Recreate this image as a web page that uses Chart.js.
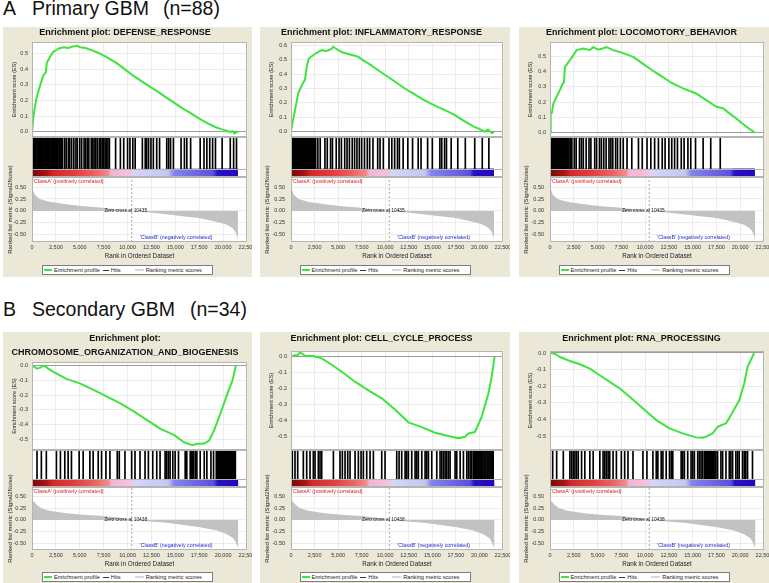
<!DOCTYPE html>
<html>
<head>
<meta charset="utf-8">
<title>GSEA enrichment plots</title>
<script src="https://cdn.jsdelivr.net/npm/chart.js@4.4.1/dist/chart.umd.min.js"></script>
<style>
  html, body { margin:0; padding:0; background:#fff; }
  body { position:relative; width:769px; height:583px; overflow:hidden; font-family:"Liberation Sans", Arial, sans-serif; }
  .big { position:absolute; font-size:19.5px; line-height:1; color:#111; white-space:pre; }
  .panel { position:absolute; background:#ebe8d8; }
  canvas { position:absolute; }
  .lg { position:absolute; height:10px; box-sizing:border-box; border:1px solid #7d7d7d; background:#fff;
        display:flex; align-items:center; font-size:5.7px; color:#222; white-space:nowrap; }
  .lg i { display:inline-block; }
</style>
</head>
<body>
<div class="big" style="left:3px;top:-1px">A</div>
<div class="big" style="left:32px;top:-1px">Primary GBM</div>
<div class="big" style="left:163px;top:-1px">(n=88)</div>
<div class="big" style="left:3px;top:300px">B</div>
<div class="big" style="left:32px;top:300px">Secondary GBM</div>
<div class="big" style="left:190px;top:300px">(n=34)</div>
<script>
const FONT = '"Liberation Sans", Arial, sans-serif';

// ---- axis ticks ----
const rankTicks = [0, 2500, 5000, 7500, 10000, 12500, 15000, 17500, 20000, 22500];
const rankTickLabels = ['0', '2,500', '5,000', '7,500', '10,000', '12,500', '15,000', '17,500', '20,000', '22,500'];

// ---- ranked list (gray area), [rank, signal2noise] ----
const primaryTotal = 21550;
const primaryZeroCross = 10435;
const primaryMetric = [[0,0.6],[100,0.45],[300,0.34],[800,0.25],[1800,0.19],[3600,0.14],[5400,0.10],[7100,0.07],
  [8800,0.035],[10435,0],[12300,-0.035],[14000,-0.07],[15800,-0.11],[17500,-0.15],[19400,-0.23],[20400,-0.29],
  [21000,-0.36],[21300,-0.44],[21500,-0.55],[21550,-0.62]];

const secondaryTotal = 21600;
const secondaryZeroCross = 10438;
const secondaryMetric = [[0,0.55],[100,0.42],[460,0.33],[970,0.25],[1840,0.2],[3600,0.145],[5350,0.11],[7100,0.087],
  [8800,0.058],[10438,0],[12350,-0.036],[14100,-0.06],[15860,-0.11],[17600,-0.16],[19350,-0.23],[20400,-0.31],
  [21100,-0.40],[21400,-0.52],[21600,-0.62]];

// ---- enrichment score curves, [rank, ES] ----
const defenseES = [[0,0],[120,0.08],[240,0.14],[490,0.22],[865,0.30],[1180,0.36],[1450,0.38],[1550,0.44],[1800,0.47],
  [2220,0.51],[2740,0.53],[3300,0.54],[3800,0.535],[4300,0.545],[4700,0.55],[5000,0.54],[5600,0.535],[6300,0.52],
  [7080,0.50],[8000,0.47],[8820,0.44],[9700,0.40],[10550,0.36],[11400,0.325],[12290,0.29],[13200,0.255],[14030,0.22],
  [14900,0.185],[15760,0.15],[16600,0.12],[17500,0.085],[18400,0.055],[19240,0.03],[19800,0.018],[20280,0.01],
  [20700,0.0],[21000,0.005],[21200,-0.01],[21400,0.003],[21550,-0.005]];
const inflammatoryES = [[0,0],[140,0.058],[424,0.15],[777,0.27],[1130,0.32],[1484,0.36],[1600,0.42],[1700,0.46],
  [1908,0.51],[2544,0.54],[3250,0.566],[3700,0.56],[3957,0.566],[4300,0.575],[4487,0.59],[5017,0.566],[5500,0.55],
  [6078,0.54],[7137,0.52],[7800,0.49],[8551,0.46],[9400,0.42],[10318,0.38],[11200,0.34],[12085,0.30],[13000,0.265],
  [13852,0.23],[14700,0.20],[15618,0.17],[16678,0.139],[17385,0.115],[18100,0.085],[18800,0.058],[19400,0.035],
  [19860,0.023],[20565,0.0],[20900,0.015],[21150,0.0],[21343,-0.01],[21550,0.0]];
const locomotoryES = [[0,0],[70,0.126],[200,0.13],[350,0.19],[700,0.235],[1050,0.28],[1330,0.32],[1470,0.33],
  [1573,0.43],[1923,0.46],[2448,0.506],[2797,0.54],[3497,0.55],[4196,0.54],[4545,0.56],[5070,0.543],[5500,0.55],
  [5944,0.56],[6643,0.54],[7692,0.52],[8741,0.496],[9790,0.45],[10700,0.41],[11538,0.376],[12587,0.333],
  [13986,0.29],[15384,0.256],[16434,0.213],[17483,0.17],[18182,0.16],[18900,0.125],[19580,0.093],[20629,0.04],
  [21550,0.0]];
const chromosomeES = [[0,0],[300,-0.01],[525,-0.02],[800,-0.015],[980,-0.01],[1100,0.0],[1400,-0.005],[1700,-0.02],
  [2200,-0.04],[3600,-0.09],[5000,-0.12],[6450,-0.165],[7850,-0.21],[9250,-0.256],[10650,-0.31],[12050,-0.37],
  [13450,-0.43],[14850,-0.47],[15900,-0.52],[16780,-0.54],[17300,-0.53],[18000,-0.53],[18530,-0.51],[19050,-0.44],
  [19750,-0.32],[20450,-0.19],[20980,-0.10],[21330,0.0]];
const cellCycleES = [[0,0],[425,0.01],[710,0.01],[955,0.027],[1310,0.015],[1490,0.005],[2370,0.005],[3260,-0.01],
  [4320,-0.05],[5380,-0.094],[6800,-0.156],[8210,-0.21],[9630,-0.26],[11040,-0.33],[12460,-0.41],[13870,-0.44],
  [15290,-0.475],[16700,-0.495],[17760,-0.51],[18470,-0.50],[18830,-0.48],[19530,-0.47],[20240,-0.375],
  [20950,-0.23],[21300,-0.125],[21600,0.0]];
const rnaES = [[0,0],[520,-0.005],[1047,-0.024],[2094,-0.048],[3141,-0.068],[4190,-0.094],[5236,-0.134],
  [6283,-0.174],[7330,-0.214],[8377,-0.264],[9773,-0.334],[11170,-0.404],[12565,-0.454],[13960,-0.484],
  [15357,-0.508],[16000,-0.51],[16400,-0.504],[17100,-0.484],[17627,-0.444],[18500,-0.424],[19020,-0.374],
  [19900,-0.284],[20420,-0.184],[20770,-0.084],[21460,0.0]];

// ---- hit positions (ranks) ----
const defenseHits = [0,70,150,260,330,410,520,600,690,760,880,950,1040,1130,1250,1320,1410,1500,1620,1700,1790,1880,
  1990,2070,2160,2280,2350,2440,2560,2640,2730,2850,2960,3080,3200,3420,3580,3800,3950,4150,4380,4600,4750,5000,
  5200,5450,5600,5780,5950,6200,6350,6500,6680,6850,7050,7200,7350,7500,7650,7800,7950,8100,8750,9250,9600,10000,
  10250,10550,10800,11550,11850,12000,12200,12450,12700,13050,13350,14100,14300,14500,14800,15600,15950,16200,
  16600,17600,18000,18300,18600,18900,19200,19900,20750,21100,21400];
const inflammatoryHits = [0,90,160,240,330,400,480,560,650,720,810,880,970,1050,1140,1210,1300,1380,1460,1550,1630,
  1720,1800,1890,1970,2060,2150,2230,2320,2410,2500,2620,2850,3100,3600,3850,4200,4400,4800,5100,5350,5700,5950,
  6200,6500,6750,7000,7250,7500,7800,8100,8350,8700,9200,9450,9800,10400,10700,11000,11300,11500,11900,12400,
  12900,13500,13800,14500,15000,15800,16000,16300,16500,17000,17700,18500,19500,20300,21000];
const locomotoryHits = [0,70,130,210,280,350,430,500,580,650,720,800,870,950,1020,1100,1170,1250,1320,1400,1480,1550,
  1630,1700,1800,1900,2000,2150,2300,2550,2750,3100,3300,3500,3800,4100,4300,4700,4900,5200,5400,5650,5900,6200,
  6400,6600,6900,7100,7400,7700,8100,8600,9300,9700,10200,10600,11000,11400,11800,12100,12500,12800,13100,13400,
  13800,14100,14500,14800,15300,16100,16900,17900];
const chromosomeHits = [525,980,1500,2555,2975,3430,3780,4130,4935,5355,6055,6400,6930,7280,7735,8155,8925,9135,
  9730,10430,10780,11300,11830,12180,12635,13055,13400,13930,14100,14280,14455,14735,14980,15330,16030,16200,
  16555,16650,16730,16820,16900,17080,17255,17600,18025,18300,18725,19000,19285,19400,19530,19620,19700,19800,
  19880,19970,20055,20150,20230,20320,20400,20490,20580,20670,20755,20850,20930,21020,21100,21190,21280];
const cellCycleHits = [140,425,710,1310,1665,2020,2370,2550,2900,3080,3260,4500,5200,5450,5735,6020,6265,6800,7150,
  7435,7680,8035,8390,8745,9630,9980,11220,11470,11750,12110,12280,12460,12815,13170,13350,13520,13880,14230,
  14410,14585,14940,15470,15820,16000,16180,16355,16530,16710,16885,17415,17590,17950,18300,18655,18830,19010,
  19190,19365,19480,19590,19710,19800,19920,20030,20150,20250,20360,20480,20580,20690,20810,20910,21020,21130,
  21250,21350,21460];
const rnaHits = [280,700,1400,2090,2270,2440,2620,2790,2970,3320,3660,4190,4540,5240,5580,5760,5930,6110,6280,6630,
  6980,7500,7850,8200,8725,9770,10190,10820,11170,11340,11690,11870,12215,12560,12740,12910,13790,13960,14130,
  14480,14830,15010,15180,15530,15700,15880,16050,16230,16340,16450,16560,16670,16780,16890,17000,17110,17220,
  17340,17450,17620,17970,18150,18500,18850,19020,19200,19540,19720,19890,20240,20420,20590,20770,21290];

// ---- layout / style ----
const gradientStops = [[0,'#7a0808'],[0.07,'#a81414'],[0.1,'#d42828'],[0.2,'#e23c3c'],[0.3,'#ec6060'],
  [0.37,'#f28a8a'],[0.385,'#f5b4d4'],[0.48,'#f2c4e0'],[0.495,'#d6d6f6'],[0.66,'#c6c6f2'],[0.69,'#8484ea'],
  [0.88,'#5a50dc'],[0.9,'#2a10c4'],[1,'#2008b8']];

const columns = [
  {left:3, width:249, plotLeft:32, plotRight:247},
  {left:260, width:250, plotLeft:291, plotRight:503},
  {left:519, width:250, plotLeft:550, plotRight:764}
];
const rows = {
  A: {top:27, bottom:277, esBottom:137, hitsBottom:177, metricBottom:242, legendTop:265,
      total:primaryTotal, zero:primaryZeroCross, metric:primaryMetric},
  B: {top:332, bottom:583, esBottom:450, hitsBottom:487, metricBottom:550, legendTop:572,
      total:secondaryTotal, zero:secondaryZeroCross, metric:secondaryMetric}
};

const panels = [
  {row:'A', col:0, title:['Enrichment plot: DEFENSE_RESPONSE'], es:defenseES, hits:defenseHits,
   yMin:-0.032, yMax:0.573, lh:12, pad:{top:0, bottom:3}},
  {row:'A', col:1, title:['Enrichment plot: INFLAMMATORY_RESPONSE'], es:inflammatoryES, hits:inflammatoryHits,
   yMin:-0.037, yMax:0.623, lh:12, pad:{top:0, bottom:3}},
  {row:'A', col:2, title:['Enrichment plot: LOCOMOTORY_BEHAVIOR'], es:locomotoryES, hits:locomotoryHits,
   yMin:-0.028, yMax:0.593, lh:12, pad:{top:0, bottom:3}},
  {row:'B', col:0, title:['Enrichment plot:', 'CHROMOSOME_ORGANIZATION_AND_BIOGENESIS'], es:chromosomeES,
   hits:chromosomeHits, yMin:-0.573, yMax:0.025, lh:14, pad:{top:0, bottom:2}},
  {row:'B', col:1, title:['Enrichment plot: CELL_CYCLE_PROCESS'], es:cellCycleES, hits:cellCycleHits,
   yMin:-0.583, yMax:0.036, lh:12, pad:{top:1, bottom:6}},
  {row:'B', col:2, title:['Enrichment plot: RNA_PROCESSING'], es:rnaES, hits:rnaHits,
   yMin:-0.584, yMax:0.012, lh:12, pad:{top:1, bottom:6}}
];

// white plot background + thin frame round every plot area
const framePlugin = {
  id: 'frame',
  beforeDraw(chart) {
    const {ctx, chartArea: a} = chart;
    ctx.save();
    ctx.fillStyle = '#fff';
    ctx.fillRect(a.left, a.top, a.right - a.left, a.bottom - a.top);
    ctx.restore();
  },
  afterDraw(chart, args, opts) {
    const {ctx, chartArea: a} = chart;
    ctx.save();
    ctx.strokeStyle = opts.color || '#b0b0b0';
    ctx.lineWidth = 1;
    const l = Math.round(a.left) + 0.5, t = Math.round(a.top) + 0.5;
    const r = Math.round(a.right) - 0.5, b = Math.round(a.bottom) - 0.5;
    ctx.strokeRect(l, t, r - l, b - t);
    if (opts.splitAt !== undefined) {
      const y = Math.round(chart.scales.y.getPixelForValue(opts.splitAt)) + 0.5;
      ctx.beginPath(); ctx.moveTo(l, y); ctx.lineTo(r, y); ctx.stroke();
    }
    ctx.restore();
  }
};

const notesPlugin = {
  id: 'notes',
  afterDatasetsDraw(chart, args, o) {
    const {ctx, chartArea: a, scales: {x, y}} = chart;
    const zx = x.getPixelForValue(o.zero);
    ctx.save();
    ctx.font = '5.3px ' + FONT;
    ctx.textAlign = 'left';
    ctx.textBaseline = 'top';
    ctx.fillStyle = '#e01818';
    ctx.fillText("'ClassA' (positively correlated)", a.left + 1, a.top + 1.5);
    ctx.textBaseline = 'bottom';
    ctx.fillStyle = '#2626d0';
    ctx.fillText("'ClassB' (negatively correlated)", zx + 8, a.bottom - 2);
    ctx.font = '4.8px ' + FONT;
    ctx.fillStyle = '#111';
    ctx.textAlign = 'center';
    ctx.textBaseline = 'middle';
    ctx.fillText('Zero cross at ' + o.zero, zx - 6, y.getPixelForValue(0) - 0.5);
    ctx.restore();
  }
};

function makeCanvas(left, top, w, h) {
  const c = document.createElement('canvas');
  c.width = w; c.height = h;
  c.style.left = left + 'px'; c.style.top = top + 'px';
  c.style.width = w + 'px'; c.style.height = h + 'px';
  document.body.appendChild(c);
  return c;
}

function rankAxis(showLabels) {
  return {
    type: 'linear', min: 0, max: 22500, offset: false,
    afterBuildTicks: s => { s.ticks = rankTicks.map(v => ({value: v})); },
    afterFit: s => { s.paddingLeft = 0; s.paddingRight = 0; s.height = showLabels ? 19 : 0; },
    grid: {color: '#ececec', drawTicks: false},
    border: {display: false},
    ticks: {
      display: showLabels, autoSkip: false, maxRotation: 0, minRotation: 0, padding: 2,
      font: {family: FONT, size: 5.5}, color: '#333',
      callback: (v, i) => rankTickLabels[i]
    },
    title: {display: showLabels, text: 'Rank in Ordered Dataset', color: '#222',
            font: {family: FONT, size: 6.3}, padding: {top: 1, bottom: 1}}
  };
}

const common = {responsive: false, animation: false, events: []};

panels.forEach(p => {
  const row = rows[p.row], col = columns[p.col];
  const yWidth = col.plotLeft - col.left;
  const padRight = col.left + col.width - col.plotRight;

  // beige panel
  const bg = document.createElement('div');
  bg.className = 'panel';
  bg.style.cssText = `left:${col.left}px;top:${row.top}px;width:${col.width}px;height:${row.bottom - row.top}px`;
  document.body.appendChild(bg);

  // enrichment score
  new Chart(makeCanvas(col.left, row.top, col.width, row.esBottom - row.top), {
    type: 'line',
    data: {datasets: [{
      data: p.es.map(([x, y]) => ({x, y})),
      borderColor: '#3de43d', borderWidth: 2, pointRadius: 0, tension: 0, borderJoinStyle: 'round'
    }]},
    options: {
      ...common,
      layout: {padding: {left: 0, right: padRight, top: 0, bottom: 0}},
      plugins: {
        legend: {display: false}, tooltip: {enabled: false},
        title: {display: true, text: p.title, color: '#111',
                font: {family: FONT, size: 9, weight: 'bold', lineHeight: p.lh + 'px'}, padding: p.pad},
        frame: {color: '#b4b4b4'}
      },
      scales: {
        x: rankAxis(false),
        y: {
          min: p.yMin, max: p.yMax,
          afterFit: s => { s.width = yWidth; s.paddingTop = 0; s.paddingBottom = 0; },
          grid: {drawTicks: false, color: c => Math.abs(c.tick.value) < 1e-9 ? '#9c9c9c' : '#ececec'},
          border: {display: false},
          ticks: {stepSize: 0.1, includeBounds: false, padding: 4, color: '#333',
                  font: {family: FONT, size: 5.5}, callback: v => v.toFixed(1)},
          title: {display: true, text: 'Enrichment score (ES)', color: '#222',
                  font: {family: FONT, size: 5.5}, padding: {top: 8.5, bottom: 0}}
        }
      }
    },
    plugins: [framePlugin]
  });

  // hits + ranked list colour bar
  new Chart(makeCanvas(col.left, row.esBottom, col.width, row.hitsBottom - row.esBottom), {
    type: 'bar',
    data: {datasets: [
      {type: 'bar', data: p.hits.map(r => ({x: r, y: [0.21, 1]})), backgroundColor: '#000',
       barThickness: 1, borderWidth: 0},
      {type: 'line', data: [{x: 0, y: 0.21}, {x: row.total, y: 0.21}], fill: 'origin', borderWidth: 0,
       pointRadius: 0,
       backgroundColor: c => {
         const ch = c.chart;
         if (!ch.chartArea) return '#ddd';
         const g = ch.ctx.createLinearGradient(ch.scales.x.getPixelForValue(0), 0,
                                               ch.scales.x.getPixelForValue(row.total), 0);
         gradientStops.forEach(([o, clr]) => g.addColorStop(o, clr));
         return g;
       }}
    ]},
    options: {
      ...common,
      layout: {padding: {left: yWidth, right: padRight, top: 0, bottom: 0}},
      plugins: {legend: {display: false}, tooltip: {enabled: false}, frame: {color: '#b4b4b4', splitAt: 0.21}},
      scales: {
        x: {type: 'linear', min: 0, max: 22500, display: false, offset: false},
        y: {min: 0, max: 1, display: false}
      }
    },
    plugins: [framePlugin]
  });

  // ranked list metric (canvas starts at the hits strip so the long y title has room)
  new Chart(makeCanvas(col.left, row.esBottom, col.width, row.metricBottom + 19 - row.esBottom), {
    type: 'line',
    data: {datasets: [
      {data: row.metric.map(([x, y]) => ({x, y})), fill: 'origin', backgroundColor: '#c2c2c2',
       borderWidth: 0, pointRadius: 0, tension: 0},
      {data: [{x: row.zero, y: -0.65}, {x: row.zero, y: 0.71}], borderColor: '#a8a8a8', borderWidth: 1,
       borderDash: [2, 2], pointRadius: 0, fill: false}
    ]},
    options: {
      ...common,
      layout: {padding: {left: 0, right: padRight, top: row.hitsBottom - row.esBottom, bottom: 0}},
      plugins: {
        legend: {display: false}, tooltip: {enabled: false},
        frame: {color: '#b4b4b4'},
        notes: {zero: row.zero}
      },
      scales: {
        x: rankAxis(true),
        y: {
          min: -0.65, max: 0.71,
          afterFit: s => { s.width = yWidth; s.paddingTop = 0; s.paddingBottom = 0; },
          grid: {drawTicks: false, color: '#ececec'},
          border: {display: false},
          ticks: {stepSize: 0.25, includeBounds: false, padding: 6, color: '#333',
                  font: {family: FONT, size: 5.5}, callback: v => v.toFixed(2)},
          title: {display: true, text: 'Ranked list metric (Signal2Noise)', color: '#222',
                  font: {family: FONT, size: 6}, padding: {top: 3.4, bottom: 0}}
        }
      }
    },
    plugins: [framePlugin, notesPlugin]
  });

  // legend box
  const lg = document.createElement('div');
  lg.className = 'lg';
  lg.style.left = (col.left + (col.width - 171) / 2) + 'px';
  lg.style.top = row.legendTop + 'px';
  lg.style.width = '171px';
  lg.innerHTML =
    '<i style="width:8px;height:2.5px;background:#3de43d;margin-left:1px"></i>' +
    '<span style="margin-left:2px">Enrichment profile</span>' +
    '<i style="width:6px;height:1px;background:#333;margin-left:3px"></i>' +
    '<span style="margin-left:2px">Hits</span>' +
    '<i style="width:9px;height:1.5px;background:#d8d8d8;margin-left:14px"></i>' +
    '<span style="margin-left:2px">Ranking metric scores</span>';
  document.body.appendChild(lg);
});
</script>
</body>
</html>
